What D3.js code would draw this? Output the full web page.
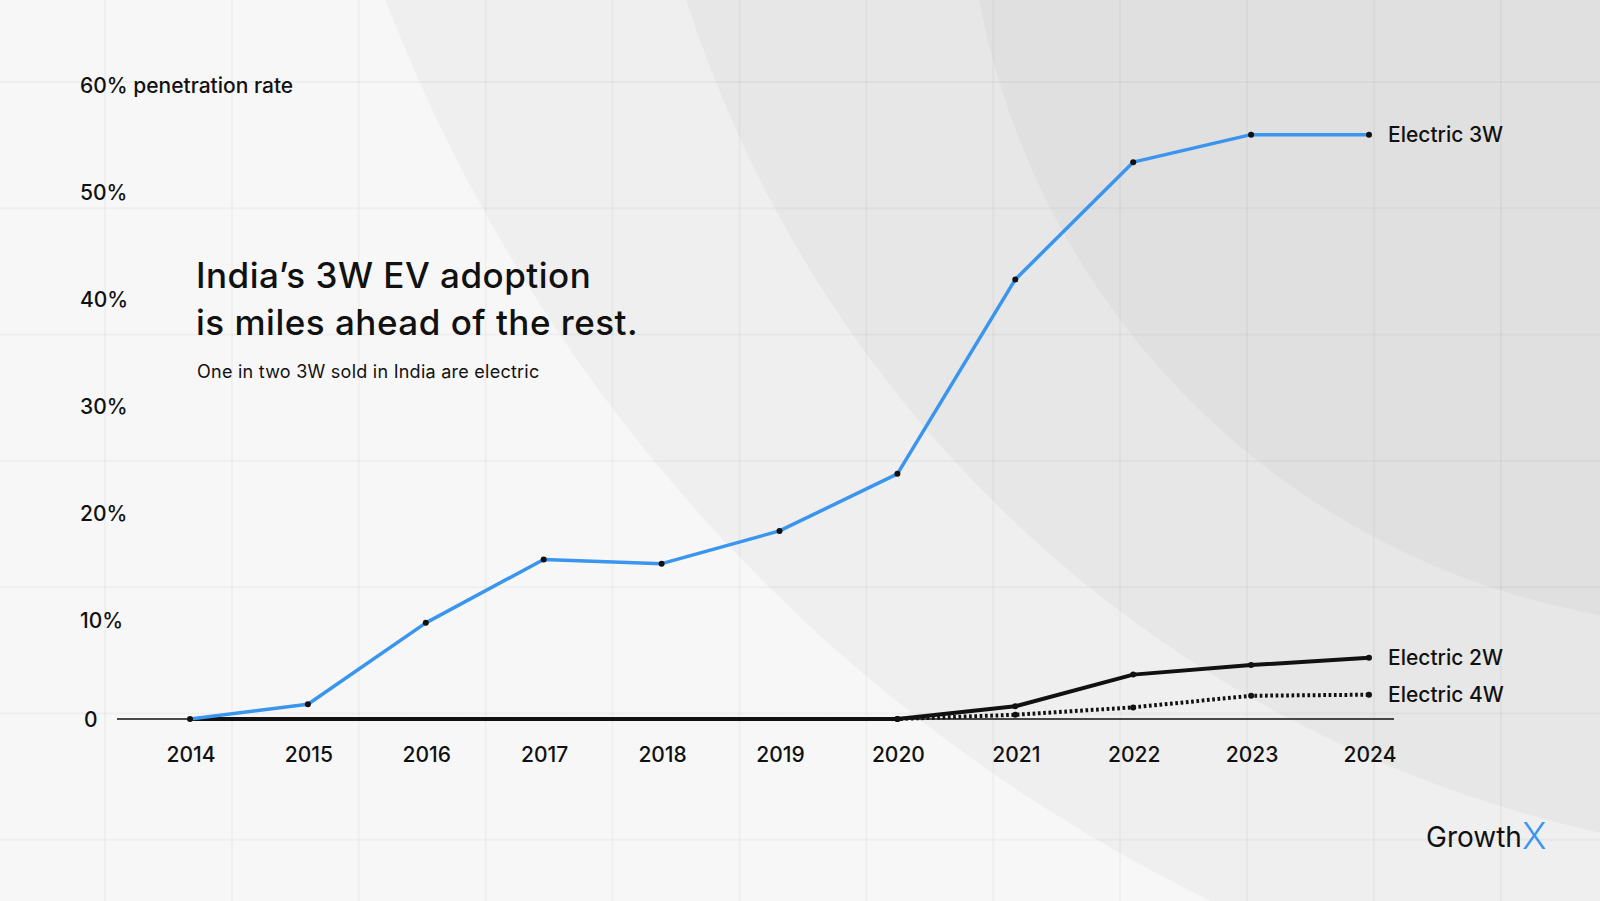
<!DOCTYPE html>
<html>
<head>
<meta charset="utf-8">
<script src="https://cdn.jsdelivr.net/npm/d3@7"></script>
<style>
  html, body { margin: 0; padding: 0; background: #f7f7f7; }
  svg { display: block; font-family: Inter, "Noto Sans", sans-serif; }
</style>
</head>
<body>
<div id="chart"></div>
<script>
// values (penetration rate, %)
const years = [2014, 2015, 2016, 2017, 2018, 2019, 2020, 2021, 2022, 2023, 2024];
const threeW = [0, 1.4, 9.1, 15.1, 14.7, 17.8, 23.2, 41.6, 52.7, 55.3, 55.3];
const twoW = [0, 0, 0, 0, 0, 0, 0, 1.2, 4.2, 5.1, 5.8];
const fourW = [0, 0, 0, 0, 0, 0, 0, 0.4, 1.1, 2.2, 2.3];
const yTicks = [0, 10, 20, 30, 40, 50, 60];
const yTickLabels = ["0", "10%", "20%", "30%", "40%", "50%", "60% penetration rate"];
const seriesNames = ["Electric 3W", "Electric 2W", "Electric 4W"];

const width = 1600;
const height = 901;
const ink = "#111";
const blue = "#3a95ee";

const svg = d3.select("#chart")
  .append("svg")
  .attr("width", width)
  .attr("height", height)
  .attr("viewBox", [0, 0, width, height]);

// background: flat grey with three big soft arcs from the top right
svg.append("rect").attr("width", width).attr("height", height).attr("fill", "#f7f7f7");
const arcs = [
  { cx: 1945, cy: -600, r: 1671, fill: "#efefef" },
  { cx: 1868, cy: -379, r: 1241, fill: "#e7e7e7" },
  { cx: 1735, cy: -142, r: 769, fill: "#e0e0e0" }
];
svg.append("g")
  .selectAll("circle")
  .data(arcs)
  .join("circle")
  .attr("cx", d => d.cx)
  .attr("cy", d => d.cy)
  .attr("r", d => d.r)
  .attr("fill", d => d.fill);

// graph-paper grid
const grid = svg.append("g")
  .attr("stroke", "#000")
  .attr("stroke-opacity", 0.03)
  .attr("stroke-width", 2);
grid.selectAll(".v")
  .data(d3.range(0, 12))
  .join("line")
  .attr("x1", i => 105 + i * 126.9)
  .attr("x2", i => 105 + i * 126.9)
  .attr("y1", 0)
  .attr("y2", height);
grid.selectAll(".h")
  .data(d3.range(0, 7))
  .join("line")
  .attr("x1", 0)
  .attr("x2", width)
  .attr("y1", i => 82 + i * 126.3)
  .attr("y2", i => 82 + i * 126.3);

const x = d3.scaleLinear().domain([2014, 2024]).range([190, 1369]);
const y = d3.scaleLinear().domain([0, 60]).range([719, 85]);
// the tick labels sit on a slightly different step than the plotted values
const labelY = d3.scaleLinear().domain([0, 60]).range([727, 85]);

// y tick labels
svg.append("g")
  .selectAll("text")
  .data(yTicks)
  .join("text")
  .attr("x", d => d === 0 ? 84 : 80)
  .attr("y", d => d === 0 ? y(0) : labelY(d))
  .attr("dominant-baseline", "central")
  .attr("font-size", 21)
  .attr("font-weight", 500)
  .attr("fill", ink)
  .text((d, i) => yTickLabels[i]);

// baseline
svg.append("line")
  .attr("x1", 117)
  .attr("x2", 1394)
  .attr("y1", y(0))
  .attr("y2", y(0))
  .attr("stroke", ink)
  .attr("stroke-width", 1.5);

// x axis labels
svg.append("g")
  .selectAll("text")
  .data(years)
  .join("text")
  .attr("x", d => x(d) + 1)
  .attr("y", 754)
  .attr("text-anchor", "middle")
  .attr("dominant-baseline", "central")
  .attr("font-size", 21)
  .attr("font-weight", 500)
  .attr("fill", ink)
  .text(d => d);

const line = d3.line()
  .x((d, i) => x(years[i]))
  .y(d => y(d));

const series = [
  { name: seriesNames[1], values: twoW, color: ink, width: 4, dash: null, from: 6 },
  { name: seriesNames[2], values: fourW, color: ink, width: 4, dash: "2.7,2.6", from: 6 },
  { name: seriesNames[0], values: threeW, color: blue, width: 3.5, dash: null, from: 0 }
];

const lines = svg.append("g").attr("fill", "none");
series.forEach(s => {
  lines.append("path")
    .datum(s.values)
    .attr("d", line)
    .attr("stroke", s.color)
    .attr("stroke-width", s.width)
    .attr("stroke-dasharray", s.dash)
    .attr("stroke-linejoin", "round");
});

// point markers (the black series only show them once they leave zero)
const dots = svg.append("g").attr("fill", ink);
series.forEach(s => {
  dots.selectAll(null)
    .data(s.values.map((v, i) => ({ v, i })).filter(d => d.i >= s.from))
    .join("circle")
    .attr("cx", d => x(years[d.i]))
    .attr("cy", d => y(d.v))
    .attr("r", 3);
});

// series labels at line ends
svg.append("g")
  .selectAll("text")
  .data(series)
  .join("text")
  .attr("x", x(2024) + 19)
  .attr("y", d => y(d.values[d.values.length - 1]) - 0.5)
  .attr("dominant-baseline", "central")
  .attr("font-size", 21)
  .attr("font-weight", 500)
  .attr("fill", ink)
  .text(d => d.name);

// headline
const title = svg.append("text")
  .attr("x", 196)
  .attr("font-size", 35)
  .attr("font-weight", 500)
  .attr("letter-spacing", 0.5)
  .attr("fill", ink);
title.append("tspan").attr("x", 196).attr("y", 288).text("India’s 3W EV adoption");
title.append("tspan").attr("x", 196).attr("y", 335).text("is miles ahead of the rest.");

svg.append("text")
  .attr("x", 197)
  .attr("y", 378)
  .attr("font-size", 18)
  .attr("letter-spacing", 0.25)
  .attr("fill", ink)
  .text("One in two 3W sold in India are electric");

// logo
const logo = svg.append("text")
  .attr("x", 1426)
  .attr("y", 847)
  .attr("font-size", 28)
  .attr("fill", ink);
logo.append("tspan").text("Growth");
logo.append("tspan")
  .attr("font-size", 37)
  .attr("font-weight", 300)
  .attr("fill", blue)
  .attr("dy", 2)
  .text("X");
</script>
</body>
</html>
